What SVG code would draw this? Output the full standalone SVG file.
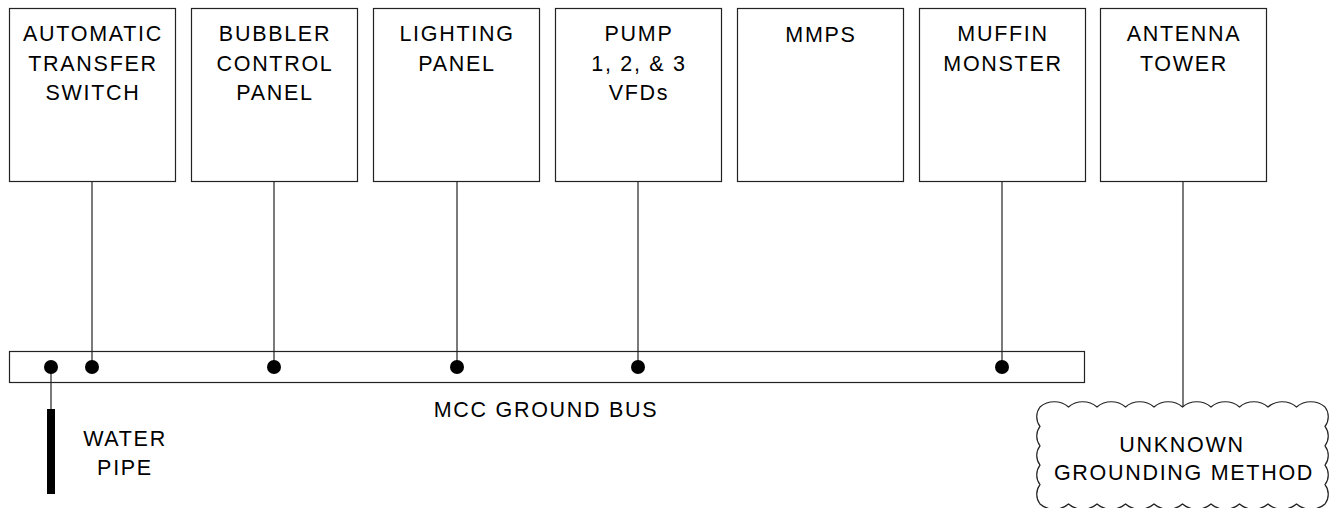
<svg xmlns="http://www.w3.org/2000/svg" width="1341" height="508" viewBox="0 0 1341 508">
<style>
  .box { fill: #fff; stroke: #222; stroke-width: 1.2; }
  .lbl { font-family: "Liberation Sans", Arial, sans-serif; font-size: 21.5px; letter-spacing: 1.7px; fill: #000; text-anchor: middle; }
  .wire { stroke: #222; stroke-width: 1.2; fill: none; }
  .dot { fill: #000; }
</style>
<rect width="1341" height="508" fill="#fff"/>

<g id="ats">
  <rect class="box" x="9.5" y="8.5" width="166" height="173"/>
  <text class="lbl" x="93" y="41">AUTOMATIC</text>
  <text class="lbl" x="93" y="71">TRANSFER</text>
  <text class="lbl" x="93" y="100">SWITCH</text>
</g>
<g id="bubbler">
  <rect class="box" x="191.5" y="8.5" width="166" height="173"/>
  <text class="lbl" x="275" y="41">BUBBLER</text>
  <text class="lbl" x="275" y="71">CONTROL</text>
  <text class="lbl" x="275" y="100">PANEL</text>
</g>
<g id="lighting">
  <rect class="box" x="373.5" y="8.5" width="166" height="173"/>
  <text class="lbl" x="457" y="41">LIGHTING</text>
  <text class="lbl" x="457" y="71">PANEL</text>
</g>
<g id="pump">
  <rect class="box" x="555.5" y="8.5" width="166" height="173"/>
  <text class="lbl" x="639" y="41">PUMP</text>
  <text class="lbl" x="639" y="71">1, 2, &amp; 3</text>
  <text class="lbl" x="639" y="100">VFDs</text>
</g>
<g id="mmps">
  <rect class="box" x="737.5" y="8.5" width="166" height="173"/>
  <text class="lbl" x="821" y="42">MMPS</text>
</g>
<g id="muffin">
  <rect class="box" x="919.5" y="8.5" width="166" height="173"/>
  <text class="lbl" x="1003" y="41">MUFFIN</text>
  <text class="lbl" x="1003" y="71">MONSTER</text>
</g>
<g id="antenna">
  <rect class="box" x="1100.5" y="8.5" width="166" height="173"/>
  <text class="lbl" x="1184" y="41">ANTENNA</text>
  <text class="lbl" x="1184" y="71">TOWER</text>
</g>

<g id="bus">
  <rect class="box" x="9.5" y="351.5" width="1075" height="31"/>
  <text class="lbl" x="546" y="417">MCC GROUND BUS</text>
</g>

<g id="water-pipe">
  <rect x="47" y="409" width="8" height="85" fill="#000"/>
  <text class="lbl" x="125" y="446">WATER</text>
  <text class="lbl" x="125" y="475">PIPE</text>
</g>

<g id="unknown-grounding">
  <path class="box" d="M1040,407
    a22,22 0 0 1 28.5,0 a22,22 0 0 1 28.5,0 a22,22 0 0 1 28.5,0 a22,22 0 0 1 28.5,0 a22,22 0 0 1 28.5,0
    a22,22 0 0 1 28.5,0 a22,22 0 0 1 28.5,0 a22,22 0 0 1 28.5,0 a22,22 0 0 1 28.5,0 a22,22 0 0 1 28.5,0
    a16,16 0 0 1 0,19.4 a16,16 0 0 1 0,19.4 a16,16 0 0 1 0,19.4 a16,16 0 0 1 0,19.4 a16,16 0 0 1 0,19.4
    a22,22 0 0 1 -28.5,0 a22,22 0 0 1 -28.5,0 a22,22 0 0 1 -28.5,0 a22,22 0 0 1 -28.5,0 a22,22 0 0 1 -28.5,0
    a22,22 0 0 1 -28.5,0 a22,22 0 0 1 -28.5,0 a22,22 0 0 1 -28.5,0 a22,22 0 0 1 -28.5,0 a22,22 0 0 1 -28.5,0
    a16,16 0 0 1 0,-19.4 a16,16 0 0 1 0,-19.4 a16,16 0 0 1 0,-19.4 a16,16 0 0 1 0,-19.4 a16,16 0 0 1 0,-19.4 Z"/>
  <text class="lbl" x="1182" y="452">UNKNOWN</text>
  <text class="lbl" x="1184" y="480">GROUNDING METHOD</text>
</g>

<g id="connectors">
  <line class="wire" x1="92" y1="181.5" x2="92" y2="367"/>
  <line class="wire" x1="274" y1="181.5" x2="274" y2="367"/>
  <line class="wire" x1="457" y1="181.5" x2="457" y2="367"/>
  <line class="wire" x1="638" y1="181.5" x2="638" y2="367"/>
  <line class="wire" x1="1002" y1="181.5" x2="1002" y2="367"/>
  <line class="wire" x1="1183" y1="181.5" x2="1183" y2="407"/>
  <line class="wire" x1="51" y1="367" x2="51" y2="409"/>
  <circle class="dot" cx="51" cy="367" r="7"/>
  <circle class="dot" cx="92" cy="367" r="7"/>
  <circle class="dot" cx="274" cy="367" r="7"/>
  <circle class="dot" cx="457" cy="367" r="7"/>
  <circle class="dot" cx="638" cy="367" r="7"/>
  <circle class="dot" cx="1002" cy="367" r="7"/>
</g>
</svg>
